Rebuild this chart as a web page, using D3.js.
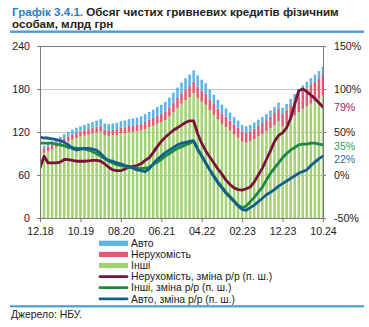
<!DOCTYPE html>
<html><head><meta charset="utf-8">
<script src="https://cdn.jsdelivr.net/npm/d3@7"></script>
<style>
body{margin:0;background:#fff;}
text{font-family:"Liberation Sans",Arial,sans-serif;}
</style>
</head><body>
<svg id="c" width="369" height="327"></svg>
<script>
const months = ["12.18",
"01.19","02.19","03.19","04.19","05.19","06.19","07.19","08.19","09.19","10.19","11.19","12.19",
"01.20","02.20","03.20","04.20","05.20","06.20","07.20","08.20","09.20","10.20","11.20","12.20",
"01.21","02.21","03.21","04.21","05.21","06.21","07.21","08.21","09.21","10.21","11.21","12.21",
"01.22","02.22","03.22","04.22","05.22","06.22","07.22","08.22","09.22","10.22","11.22","12.22",
"01.23","02.23","03.23","04.23","05.23","06.23","07.23","08.23","09.23","10.23","11.23","12.23",
"01.24","02.24","03.24","04.24","05.24","06.24","07.24","08.24","09.24","10.24"];
const tickLabels = ["12.18","10.19","08.20","06.21","04.22","02.23","12.23","10.24"];

// bn UAH
const others = [89,91,93.3,95.6,98.4,100.7,104,107,109.3,111.6,113.5,114.9,116.2,118,119.5,120.8,115.5,114.5,115.5,115.9,117.8,118.1,119.9,120.2,121,122.1,124.2,126.7,128.7,131.7,133.7,136.7,141.7,147.7,153.7,159.7,164.7,168.6,174,167.6,162.2,157.9,150.1,143.8,137.5,131.2,126.9,121.6,116.3,112,106.6,105,106.8,110,113.7,117.3,120.9,125.4,129.9,135.2,127.5,131.5,137.5,142.8,147.6,152.4,155.7,159.5,162.8,166.5,171];
const mortgage = [6,6,6.2,6.4,6.6,6.8,7,7,7.2,7.4,7.5,7.6,7.8,8,8,8.2,8,8,8,8.1,8.2,8.4,8.6,8.8,9,9.4,9.8,10.3,10.8,11.3,11.8,12.3,12.8,13.3,13.8,14.3,14.8,15.4,16,15.9,15.8,15.6,15.4,15.2,15,14.8,14.6,14.4,14.2,14,13.9,14,14.2,14.5,14.8,15.2,15.6,16.1,16.6,17.3,18,19,20,21.2,22.4,23.6,24.8,26,27.2,28.5,30];
const auto = [4,4,4.5,5,5,5.5,6,6,6.5,7,7,7.5,8,8,8.5,9,8.5,8.5,8.5,9,9,9.5,9.5,10,10,10.5,11,11,11.5,12,12.5,13,13.5,14,14.5,15,15.5,16,16,15.5,15,14.5,13.5,13,12.5,12,11.5,11,10.5,10,9.5,9,9,8.5,8.5,8.5,8.5,8.5,8.5,8.5,8.5,8.5,8.5,9,9,9,9.5,9.5,10,10,10];
// y/y, %
const mortgageYoY = [8,22,14,14,14,15,18,18,17,16,16,16,16.5,17,17,16,13,9,6,5,5,7,9,10,11,13,17,20,26,33,39,44,48,52,55,58,61,63,63,48,37,28,21,14,7,1,-6,-11,-15,-17,-17.5,-16,-14,-8,0,8,18,28,39,46,49,55,66,82,98,100,97,93,89,84,79];
const othersYoY = [37,37,37,37,36,35,34,32,32,31,31,30,29,27,25,22,19,16,14,12,11,10,9,8.5,8,7.5,8,9,12,15,18,22,25,28,31,33,35,37,39,30,22,14,6,-1,-8,-14,-20,-25,-30,-35,-38,-36,-31,-26,-20,-14,-6,2,8,14,20,25,29,32,35,36,36,37,37,36,35];
const autoYoY = [44,43,43,42,41,40,38,35,31,29,30,31,31,30,29,25,20,17,16,14,13,11,10,8,6,5,4,7,13,18,22,26,29,32,35,37,38,39,40,30,22,14,6,-2,-9,-15,-21,-26,-31,-36,-40,-41,-38,-35,-31,-27,-23,-20,-17,-13,-10,-7,-4,-1,2,4,6,11,15,19,22];

const barKeys = ["others","mortgage","auto"];
const barColors = {others:"#a2d373", mortgage:"#e05a72", auto:"#5ab4e6"};
const lineSeries = [
  {name:"Нерухомість, зміна р/р (п. ш.)", values:mortgageYoY, color:"#7c1239"},
  {name:"Інші, зміна р/р (п. ш.)", values:othersYoY, color:"#1d8a43"},
  {name:"Авто, зміна р/р (п. ш.)", values:autoYoY, color:"#145f8d"}
];
const endLabels = [
  {text:"79%", v:79, color:"#8e2a4d", dy:0.5},
  {text:"35%", v:35, color:"#2f9a5b", dy:1},
  {text:"22%", v:22, color:"#2b6ca6", dy:3}
];
const legendItems = [
  {label:"Авто", type:"bar", color:"#5ab4e6"},
  {label:"Нерухомість", type:"bar", color:"#e05a72"},
  {label:"Інші", type:"bar", color:"#a2d373"},
  {label:"Нерухомість, зміна р/р (п. ш.)", type:"line", color:"#7c1239"},
  {label:"Інші, зміна р/р (п. ш.)", type:"line", color:"#1d8a43"},
  {label:"Авто, зміна р/р (п. ш.)", type:"line", color:"#145f8d"}
];

const L=40, R=323, T=46, B=218;
const svg = d3.select("#c");

// Title
const title = svg.append("text").attr("x",12).attr("y",15.5).attr("font-size","11.6px").attr("font-weight","bold");
title.append("tspan").attr("fill","#2f7dc0").text("Графік 3.4.1.");
title.append("tspan").attr("fill","#1e1e1e").text(" Обсяг чистих гривневих кредитів фізичним");
svg.append("text").attr("x",12).attr("y",27.5).attr("font-size","11.6px").attr("font-weight","bold").attr("fill","#1e1e1e").text("особам, млрд грн");
svg.append("rect").attr("x",10).attr("y",30.5).attr("width",354).attr("height",2.4).attr("fill","#4a9ed2");

const x = d3.scalePoint().domain(months).range([L,R]);
const yL = d3.scaleLinear().domain([0,240]).range([B,T]);
const yR = d3.scaleLinear().domain([-50,150]).range([B,T]);

// grid
svg.append("g").selectAll("line").data([60,120,180]).join("line")
  .attr("x1",L).attr("x2",R).attr("y1",d=>yL(d)).attr("y2",d=>yL(d))
  .attr("stroke","#c4c4c4").attr("stroke-width",1).attr("shape-rendering","crispEdges");

svg.append("clipPath").attr("id","pc").append("rect").attr("x",L).attr("y",T).attr("width",R-L).attr("height",B-T);

// bars
const rows = months.map((m,i)=>({month:m, others:others[i], mortgage:mortgage[i], auto:auto[i]}));
const stacked = d3.stack().keys(barKeys)(rows);
const bw = 2.5;
const gb = svg.append("g").attr("clip-path","url(#pc)");
stacked.forEach(layer=>{
  gb.append("g").attr("fill",barColors[layer.key]).selectAll("rect").data(layer).join("rect")
    .attr("x",d=>x(d.data.month)-bw/2).attr("width",bw)
    .attr("y",d=>yL(d[1])).attr("height",d=>yL(d[0])-yL(d[1]));
});

// lines
const gl = svg.append("g").attr("clip-path","url(#pc)");
lineSeries.forEach(s=>{
  const line = d3.line().x((d,i)=>x(months[i])).y(d=>yR(d)).curve(d3.curveLinear);
  gl.append("path").datum(s.values).attr("d",line).attr("fill","none")
    .attr("stroke",s.color).attr("stroke-width",2.8).attr("stroke-linejoin","round").attr("stroke-linecap","round");
});

// frame
svg.append("rect").attr("x",L).attr("y",T).attr("width",R-L).attr("height",B-T)
  .attr("fill","none").attr("stroke","#7a7a7a").attr("stroke-width",1).attr("shape-rendering","crispEdges");

// axes
const axL = svg.append("g").attr("transform",`translate(${L},0)`)
  .call(d3.axisLeft(yL).tickValues([0,60,120,180,240]).tickSize(3).tickPadding(7).tickFormat(d3.format("d")));
const axR = svg.append("g").attr("transform",`translate(${R},0)`)
  .call(d3.axisRight(yR).tickValues([-50,0,50,100,150]).tickSize(3).tickPadding(8).tickFormat(d=>d+"%"));
const axB = svg.append("g").attr("transform",`translate(0,${B})`)
  .call(d3.axisBottom(x).tickValues(tickLabels).tickSize(4).tickPadding(5.5));
[axL,axR,axB].forEach(a=>{
  a.select(".domain").attr("stroke","#7a7a7a");
  a.selectAll(".tick line").attr("stroke","#7a7a7a");
  a.selectAll("text").attr("font-size","10.6px").attr("fill","#1a1a1a").attr("font-family","Liberation Sans, Arial, sans-serif");
});

// end labels
svg.append("g").selectAll("text").data(endLabels).join("text")
  .attr("x",334).attr("y",d=>yR(d.v)+d.dy).attr("dy","0.35em")
  .attr("font-size","10.6px").attr("fill",d=>d.color).text(d=>d.text);

// legend
const lg = svg.append("g");
legendItems.forEach((it,i)=>{
  const cy = 243.3 + i*11.1;
  if(it.type==="bar"){
    lg.append("rect").attr("x",99).attr("y",cy-2.6).attr("width",29).attr("height",5.2).attr("fill",it.color);
  } else {
    lg.append("line").attr("x1",100).attr("x2",127).attr("y1",cy).attr("y2",cy)
      .attr("stroke",it.color).attr("stroke-width",2.8).attr("stroke-linecap","round");
  }
  lg.append("text").attr("x",131).attr("y",cy).attr("dy","0.36em").attr("font-size","10.4px").attr("fill","#1a1a1a").text(it.label);
});

svg.append("rect").attr("x",10).attr("y",305.2).attr("width",354).attr("height",2.2).attr("fill","#4a9ed2");
svg.append("text").attr("x",11).attr("y",318).attr("font-size","10.4px").attr("fill","#1a1a1a").text("Джерело: НБУ.");
</script>
</body></html>
